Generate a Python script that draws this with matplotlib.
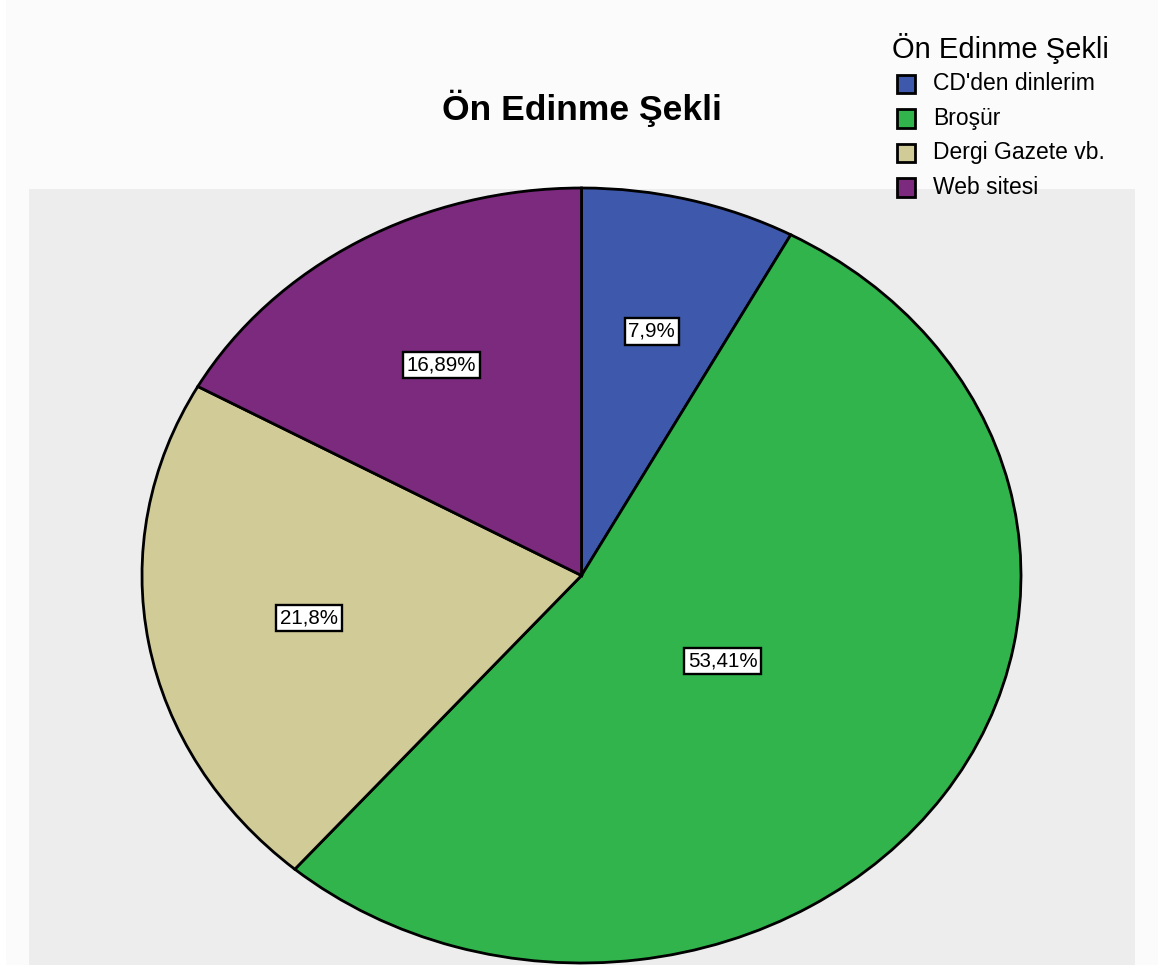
import matplotlib
matplotlib.use("Agg")
import matplotlib.pyplot as plt
from matplotlib.patches import Rectangle
import numpy as np

plt.rcParams['font.family'] = ['Liberation Sans', 'DejaVu Sans']

# Ön edinme şekli dağılımı (%)
categories = ["CD'den dinlerim", "Broşür", "Dergi Gazete vb.", "Web sitesi"]
percents = [7.9, 53.41, 21.8, 16.89]
colors = ['#3E58AC', '#31B44C', '#D1CB97', '#7B2A7E']
label_radius = [0.65, 0.39, 0.63, 0.63]  # where each % box sits along the wedge bisector

W, H = 1170, 966
fig = plt.figure(figsize=(W / 100, H / 100), dpi=100, facecolor='white')

def px_rect(x0, y0, x1, y1, **kw):
    # rectangle given in pixel coords with origin at top-left
    return Rectangle((x0 / W, 1 - y1 / H), (x1 - x0) / W, (y1 - y0) / H,
                     transform=fig.transFigure, **kw)

fig.patches.append(px_rect(6, 0, 1158, 965, facecolor='#FBFBFB', edgecolor='none', zorder=-2))
fig.patches.append(px_rect(29, 189, 1135, 965, facecolor='#EDEDED', edgecolor='none', zorder=-1))

# pie is drawn stretched into an ellipse
ax = fig.add_axes([142 / W, 1 - 963 / H, 879 / W, 775 / H])
ax.set_zorder(1)
ax.set_facecolor('none')
wedges, _ = ax.pie(percents, colors=colors, startangle=90, counterclock=False,
                   radius=1.0, wedgeprops=dict(edgecolor='black', linewidth=2.0))
ax.set_aspect('auto')
ax.set_xlim(-1, 1)
ax.set_ylim(-1, 1)
ax.axis('off')

for w, v, r in zip(wedges, percents, label_radius):
    mid = np.deg2rad((w.theta1 + w.theta2) / 2)
    txt = f"{v:g}".replace('.', ',') + '%'
    ax.text(r * np.cos(mid), r * np.sin(mid), txt, ha='center', va='center',
            fontsize=14.8, color='black',
            bbox=dict(boxstyle='square,pad=0.18', facecolor='white',
                      edgecolor='black', linewidth=1.7))

fig.text(582 / W, 1 - 108 / H, "Ön Edinme Şekli", ha='center', va='center',
         fontsize=25.5, fontweight='bold')

# legend
fig.text(892 / W, 1 - 49 / H, "Ön Edinme Şekli", ha='left', va='center', fontsize=21)
for i, (name, c) in enumerate(zip(categories, colors)):
    yc = 84 + i * 34.5
    fig.patches.append(px_rect(897, yc - 9, 915, yc + 9, facecolor=c,
                               edgecolor='black', linewidth=2.0, zorder=3))
    fig.text(933 / W, 1 - yc / H, name, ha='left', va='center', fontsize=16.5)

fig.savefig('out.png', dpi=100)
